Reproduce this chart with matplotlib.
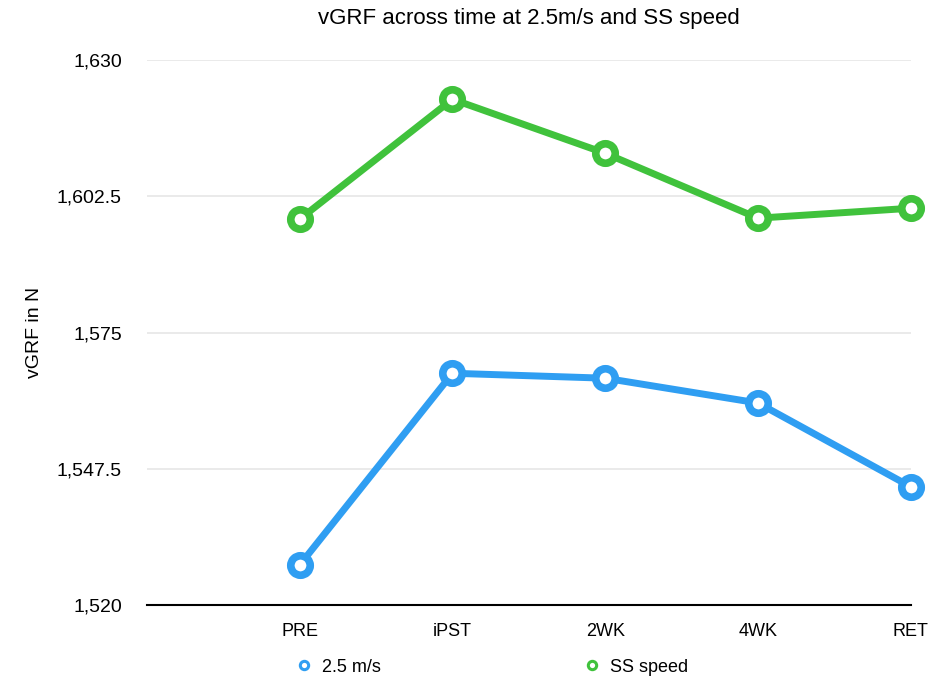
import matplotlib
matplotlib.use("Agg")
import matplotlib.pyplot as plt
from matplotlib.ticker import FuncFormatter

# data
times = ["PRE", "iPST", "2WK", "4WK", "RET"]
slow = [1528.1, 1566.8, 1565.8, 1560.8, 1543.9]    # 2.5 m/s
ss = [1597.9, 1622.1, 1611.2, 1598.1, 1600.1]      # SS speed
yticks = [1520, 1547.5, 1575, 1602.5, 1630]

blue = "#2f9ef2"
green = "#40c23c"

plt.rcParams['font.family'] = ['Liberation Sans', 'DejaVu Sans']

fig = plt.figure(figsize=(9.36, 6.83), dpi=100)
ax = fig.add_axes([0.157, 0.114, 0.816, 0.798])

x = list(range(len(times)))
ax.plot(x, slow, color=blue, lw=5, marker="o", ms=14, mew=5.5, mfc="white",
        mec=blue, clip_on=False, label="2.5 m/s", zorder=3)
ax.plot(x, ss, color=green, lw=5, marker="o", ms=14, mew=5.5, mfc="white",
        mec=green, clip_on=False, label="SS speed", zorder=3)

ax.set_xlim(-1, 4)
ax.set_ylim(1520, 1630)
ax.set_xticks(x)
ax.set_xticklabels(times, fontsize=13)
ax.set_yticks(yticks)
ax.yaxis.set_major_formatter(FuncFormatter(lambda v, p: "{:,g}".format(v)))
ax.tick_params(axis="y", length=0, labelsize=14, pad=18)
ax.tick_params(axis="x", length=0, pad=13)
ax.grid(axis="y", color="#e6e6e6", lw=1.2)
ax.set_axisbelow(True)
for s in ["top", "right", "left"]:
    ax.spines[s].set_visible(False)
ax.spines["bottom"].set_linewidth(1.5)
ax.spines["bottom"].set_zorder(2)

ax.set_ylabel("vGRF in N", fontsize=14, labelpad=10)
ax.set_title("vGRF across time at 2.5m/s and SS speed", fontsize=16, pad=26)

# legend: markers only
h1 = plt.Line2D([], [], ls="none", marker="o", ms=6, mew=2.2, mfc="white", mec=blue)
h2 = plt.Line2D([], [], ls="none", marker="o", ms=6, mew=2.2, mfc="white", mec=green)
fig.legend([h1, h2], ["2.5 m/s", "SS speed"], loc="center left",
           bbox_to_anchor=(0.2975, 0.023), ncol=2, frameon=False, fontsize=13,
           handlelength=1, handletextpad=0.5, columnspacing=11.2)

fig.savefig("out.png", dpi=100)
